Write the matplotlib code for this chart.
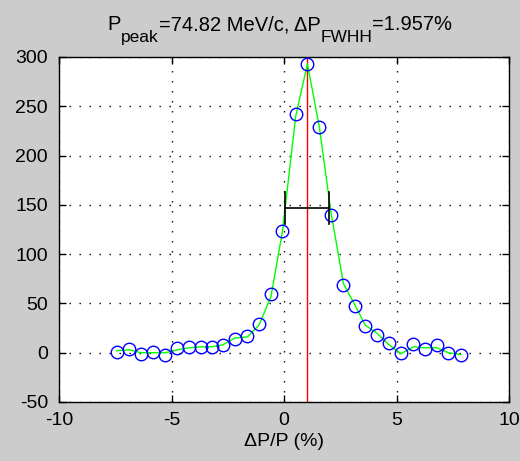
import numpy as np
import matplotlib
matplotlib.use("Agg")
import matplotlib.pyplot as plt

# --- data ---
dp = [-7.44, -6.89, -6.37, -5.81, -5.27, -4.74, -4.21, -3.68, -3.21, -2.72,
      -2.18, -1.63, -1.11, -0.58, -0.07, 0.52, 1.04, 1.57, 2.09, 2.64,
      3.16, 3.61, 4.12, 4.67, 5.20, 5.75, 6.25, 6.79, 7.30, 7.87]
counts = [1, 4, -1, 1, -2, 5, 6, 6, 6, 8,
          14, 17, 29, 60, 123, 242, 293, 229, 140, 69,
          47, 27, 18, 10, 0, 9, 4, 8, 0, -2]
smooth = [2, 3, 0, 0, 0, 3, 5, 6, 6, 8,
          15, 16, 28, 57, 123, 240, 293, 229, 142, 70,
          48, 28, 20, 8, -1, 6, 5, 5, 0, -2]
p_peak = 74.82
fwhh = 1.957
x_peak = 1.04
fwhh_left = 0.04
half_max = 147

plt.rcParams['font.family'] = 'Liberation Sans'
plt.rcParams['font.size'] = 14
plt.rcParams['axes.unicode_minus'] = False

bg = '#cccccc'
fig = plt.figure(figsize=(5.2, 4.61), dpi=100, facecolor=bg)
ax = fig.add_axes([0.1135, 0.128, 0.8654, 0.7484])

ax.plot(dp, smooth, color='#00ff00', linewidth=1.0, zorder=3)
ax.plot(dp, counts, linestyle='none', marker='o', markersize=9,
        markerfacecolor='none', markeredgecolor='blue', markeredgewidth=1, zorder=4)
ax.axvline(x_peak, color='red', linewidth=1, zorder=2)

# FWHH bar
x2 = fwhh_left + fwhh
ax.plot([fwhh_left, x2], [half_max, half_max], color='black', linewidth=1.2, zorder=5)
ax.plot([fwhh_left, fwhh_left], [half_max - 16, half_max + 16], color='black', linewidth=1.2, zorder=5)
ax.plot([x2, x2], [half_max - 16, half_max + 16], color='black', linewidth=1.2, zorder=5)

ax.set_xlim(-10, 10)
ax.set_ylim(-50, 300)
ax.set_xticks([-10, -5, 0, 5, 10])
ax.set_yticks([-50, 0, 50, 100, 150, 200, 250, 300])
ax.grid(True, color='black', linestyle=(0, (1, 6.2)), linewidth=1)
ax.tick_params(direction='in', length=5, top=True, right=True, width=1)
ax.tick_params(axis='x', pad=7)
ax.tick_params(axis='y', pad=8)
for s in ax.spines.values():
    s.set_linewidth(1)

ax.set_xlabel('ΔP/P (%)', labelpad=3)

# title with full-height subscripts, laid out piece by piece (pixel coords)
pieces = [('P', 14.5, 0), ('peak', 12.5, -12),
          ('=%.2f MeV/c, ΔP' % p_peak, 14.5, 0), ('FWHH', 12.5, -12),
          ('=%.3f%%' % fwhh, 14.5, 0)]
renderer = fig.canvas.get_renderer()
widths = []
for txt, size, dy in pieces:
    t = fig.text(0, 0, txt, fontsize=size)
    widths.append(t.get_window_extent(renderer).width)
    t.remove()
x0 = 280 - sum(widths) / 2
base = 461 - 30
for (txt, size, dy), w in zip(pieces, widths):
    fig.text(x0, base + dy, txt, fontsize=size, va='baseline', transform=None)
    x0 += w

fig.savefig('out.png', dpi=100, facecolor=bg)
